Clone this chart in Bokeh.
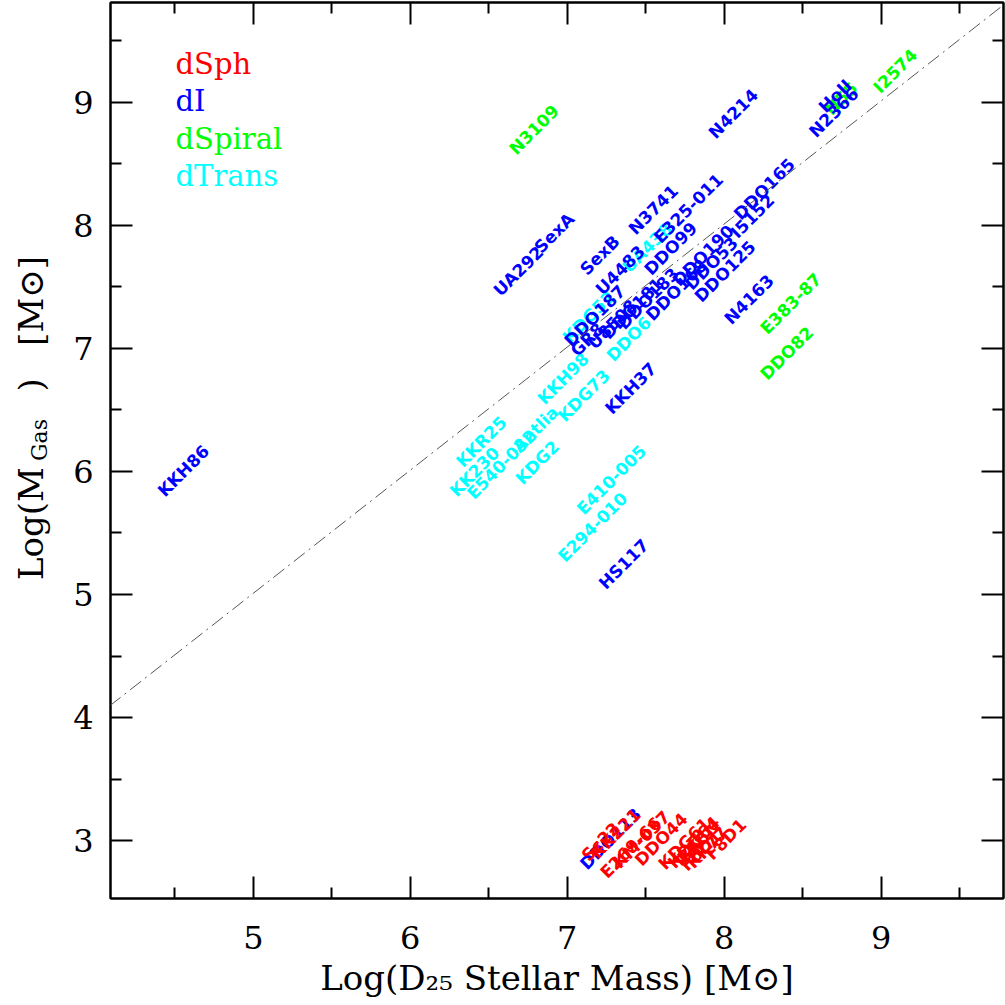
import math
from bokeh.plotting import figure
from bokeh.models import FixedTicker, LinearAxis, Label, Slope, ColumnDataSource
from bokeh.core.properties import value
from bokeh.embed import file_html
from bokeh.resources import INLINE

# ---- data ----
dsph_names = ["Sc22", "KK221", "E269-66", "KM-037", "DDO44", "KDG61", "KDG64", "IKN", "BK5N", "F6D1", "KK77", "F8D1"]
dsph_x = [7.11, 7.17, 7.23, 7.31, 7.45, 7.60, 7.66, 7.70, 7.72, 7.74, 7.78, 7.90]
dsph_y = [2.86, 2.88, 2.72, 2.80, 2.82, 2.79, 2.80, 2.82, 2.84, 2.78, 2.80, 2.87]

di_names = ["KKH86", "UA292", "SexA", "SexB", "N3741", "E325-011", "DDO99", "U4483", "DDO187", "GR8",
            "U8508", "DDO181", "DDO183", "DDO168", "DDO190", "DDO53", "DDO125", "N4163", "I5152",
            "DDO165", "N4214", "N2366", "HoII", "KKH37", "HS117", "DDO113"]
di_x = [4.41, 6.55, 6.81, 7.10, 7.41, 7.57, 7.51, 7.20, 7.00, 7.04,
        7.15, 7.24, 7.34, 7.52, 7.69, 7.77, 7.83, 8.02, 8.06,
        8.08, 7.92, 8.56, 8.62, 7.26, 7.22, 7.10]
di_y = [5.82, 7.45, 7.80, 7.62, 7.95, 7.88, 7.62, 7.46, 7.04, 6.96,
        7.02, 7.10, 7.18, 7.25, 7.53, 7.50, 7.40, 7.22, 7.92,
        8.07, 8.73, 8.74, 8.94, 6.49, 5.07, 2.79]

dspiral_names = ["N3109", "N55", "I2574", "E383-87", "DDO82"]
dspiral_x = [6.65, 8.66, 8.97, 8.25, 8.25]
dspiral_y = [8.60, 8.92, 9.10, 7.14, 6.77]

dtrans_names = ["UA438", "KDG52", "DDO6", "KKH98", "KDG73", "Antlia", "KKR25", "KK230",
                "E540-032", "KDG2", "E410-005", "E294-010"]
dtrans_x = [7.37, 6.99, 7.27, 6.83, 6.96, 6.67, 6.31, 6.27, 6.38, 6.69, 7.08, 6.96]
dtrans_y = [7.64, 7.07, 6.92, 6.57, 6.43, 6.18, 6.06, 5.82, 5.80, 5.92, 5.675, 5.29]

legend_names = ["dSph", "dI", "dSpiral", "dTrans"]
colors = ["#ff0000", "#0000ff", "#00ff00", "#00ffff"]

x_ticks = [5, 6, 7, 8, 9]
x_minor = [4.5, 5.5, 6.5, 7.5, 8.5, 9.5]
y_ticks = [3, 4, 5, 6, 7, 8, 9]
y_minor = [2.5, 3.5, 4.5, 5.5, 6.5, 7.5, 8.5, 9.5]

NB = "\u00a0"
x_title = "Log(D\u2082\u2085 Stellar Mass) [M\u2299]"
y_title_main = NB * 6 + "Log(M" + NB * 7 + ")" + NB * 3 + "[M\u2299]"
y_title_sub = NB * 3 + "Gas"

# ---- figure ----
p = figure(width=1005, height=1005, x_range=(4.09, 9.78), y_range=(2.53, 9.81),
           output_backend="svg", toolbar_location=None,
           x_axis_location=None, y_axis_location=None,
           min_border_left=110, min_border_right=2, min_border_top=2, min_border_bottom=107)
p.grid.visible = False
p.outline_line_color = "black"
p.outline_line_width = 2
p.background_fill_color = "white"
p.border_fill_color = "white"

serif = "DejaVu Serif"

def make_axis(kind, ticks, minor, show_labels):
    ax = LinearAxis(ticker=FixedTicker(ticks=ticks, minor_ticks=minor))
    ax.major_tick_in = 22
    ax.major_tick_out = 0
    ax.minor_tick_in = 11
    ax.minor_tick_out = 0
    ax.major_tick_line_width = 2
    ax.minor_tick_line_width = 2
    ax.axis_line_width = 2
    ax.major_tick_line_color = "black"
    ax.minor_tick_line_color = "black"
    ax.axis_line_color = "black"
    if show_labels:
        ax.major_label_text_font = serif
        ax.major_label_text_font_size = "32px"
        ax.major_label_text_color = "black"
        ax.major_label_standoff = 17 if kind == "y" else 27
    else:
        ax.major_label_overrides = {t: "" for t in ticks}
        ax.major_label_standoff = 0
    return ax

xb = make_axis("x", x_ticks, x_minor, True)
xb.axis_label = x_title
xb.axis_label_text_font = serif
xb.axis_label_text_font_size = "34px"
xb.axis_label_text_font_style = "normal"
xb.axis_label_text_color = "black"
xb.axis_label_standoff = 6
p.add_layout(xb, "below")
p.add_layout(make_axis("x", x_ticks, x_minor, False), "above")

yl = make_axis("y", y_ticks, y_minor, True)
yl.axis_label = y_title_sub
yl.axis_label_text_font = serif
yl.axis_label_text_font_size = "22px"
yl.axis_label_text_font_style = "normal"
yl.axis_label_text_color = "black"
yl.axis_label_standoff = 18
p.add_layout(yl, "left")

yo = LinearAxis(ticker=FixedTicker(ticks=[]))
yo.axis_line_color = None
yo.major_tick_line_color = None
yo.minor_tick_line_color = None
yo.major_label_standoff = 0
yo.major_tick_out = 0
yo.minor_tick_out = 0
yo.axis_label = y_title_main
yo.axis_label_text_font = serif
yo.axis_label_text_font_size = "34px"
yo.axis_label_text_font_style = "normal"
yo.axis_label_text_color = "black"
yo.axis_label_standoff = -26
p.add_layout(yo, "left")

p.add_layout(make_axis("y", y_ticks, y_minor, False), "right")

# one-to-one reference line
p.add_layout(Slope(gradient=1, y_intercept=0.01, line_color="#555555", line_width=1,
                   line_dash="14 5 2 5"))

# galaxy name labels
groups = [(dsph_names, dsph_x, dsph_y), (di_names, di_x, di_y),
          (dspiral_names, dspiral_x, dspiral_y), (dtrans_names, dtrans_x, dtrans_y)]
order = [2, 3, 1, 0]
for gi in order:
    names, xs, ys = groups[gi]
    src = ColumnDataSource(dict(x=xs, y=ys, t=names))
    p.text(x="x", y="y", text="t", source=src, angle=math.pi / 4,
           text_align="left", text_baseline="alphabetic",
           text_font=value("DejaVu Sans"), text_font_style="bold",
           text_font_size="17px", text_color=colors[gi])

# legend (text only)
for i, (name, col) in enumerate(zip(legend_names, colors)):
    p.add_layout(Label(x=65, y=835 - i * 37.5, x_units="screen", y_units="screen",
                       text=name, text_color=col, text_font=serif,
                       text_font_size="29px", text_align="left", text_baseline="alphabetic"))

open("out.html", "w").write(file_html(p, INLINE))
